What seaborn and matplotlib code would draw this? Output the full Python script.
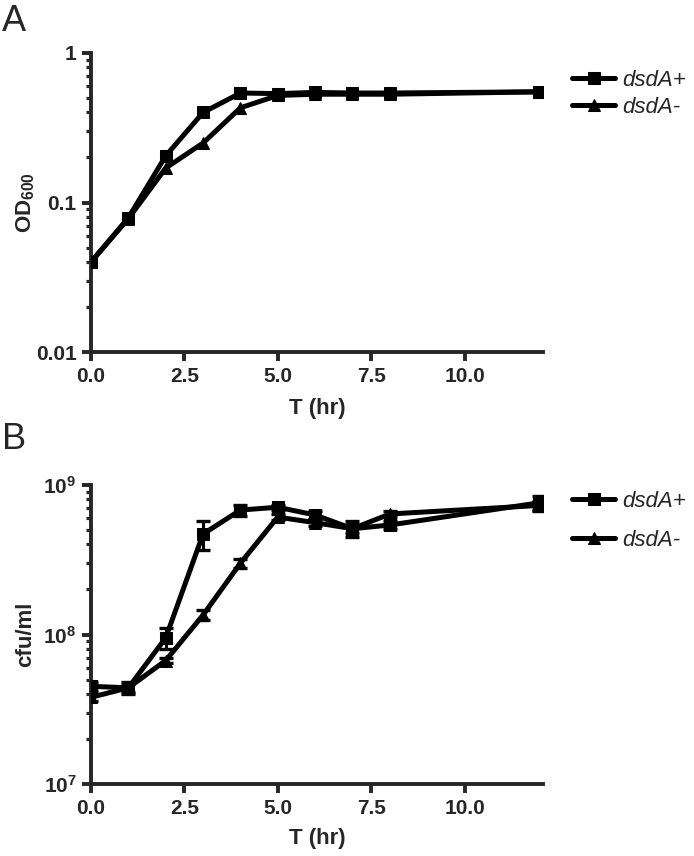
import matplotlib
matplotlib.use("Agg")
import matplotlib.pyplot as plt
import matplotlib.ticker as mticker
import seaborn as sns
import pandas as pd
import numpy as np

# time points (hr)
t = [0, 1, 2, 3, 4, 5, 6, 7, 8, 12]

# panel A: OD600
od_plus = [0.040, 0.079, 0.205, 0.40, 0.54, 0.535, 0.545, 0.54, 0.54, 0.55]
od_minus = [0.040, 0.078, 0.170, 0.25, 0.43, 0.52, 0.53, 0.53, 0.53, 0.55]

# panel B: cfu/ml
cfu_plus = [4.5e7, 4.4e7, 9.5e7, 4.7e8, 6.8e8, 7.1e8, 6.3e8, 5.1e8, 5.4e8, 7.6e8]
cfu_plus_sd = [0.3e7, 0.4e7, 1.5e7, 1.0e8, 0.6e8, 0.3e8, 0.4e8, 0.6e8, 0.3e8, 0.9e8]
cfu_minus = [3.8e7, 4.4e7, 6.7e7, 1.35e8, 3.0e8, 6.1e8, 5.6e8, 5.1e8, 6.4e8, 7.3e8]
cfu_minus_sd = [0.2e7, 0.3e7, 0.3e7, 0.1e8, 0.2e8, 0.3e8, 0.3e8, 0.3e8, 0.3e8, 0.5e8]

strains = ["dsdA+", "dsdA-"]

sns.set_style("ticks")
plt.rcParams["font.family"] = ["Liberation Sans", "DejaVu Sans"]
plt.rcParams["mathtext.fontset"] = "custom"
plt.rcParams["mathtext.rm"] = "Liberation Sans:bold"
plt.rcParams["mathtext.bf"] = "Liberation Sans:bold"
plt.rcParams["mathtext.it"] = "Liberation Sans:bold"

fig = plt.figure(figsize=(6.94, 8.56), dpi=100)
axA = fig.add_axes([91/694, 1-352/856, (543-91)/694, (352-53)/856])
axB = fig.add_axes([91/694, 1-784/856, (543-91)/694, (784-485)/856])

dfA = pd.DataFrame({
    "T": t * 2,
    "val": od_plus + od_minus,
    "strain": [strains[0]] * len(t) + [strains[1]] * len(t),
})
dfB = pd.DataFrame({
    "T": t * 2,
    "val": cfu_plus + cfu_minus,
    "sd": cfu_plus_sd + cfu_minus_sd,
    "strain": [strains[0]] * len(t) + [strains[1]] * len(t),
})

pal = {"dsdA+": "black", "dsdA-": "black"}
marks = {"dsdA+": "s", "dsdA-": "^"}

handles = {}
for ax, df in [(axA, dfA), (axB, dfB)]:
    sns.lineplot(data=df, x="T", y="val", hue="strain", style="strain",
                 palette=pal, markers=marks, dashes=False, linewidth=3.6,
                 markersize=9, markeredgecolor="black", ax=ax, zorder=3)
    handles[ax] = ax.get_legend_handles_labels()
    ax.get_legend().remove()

for s in strains:
    sub = dfB[dfB["strain"] == s]
    axB.errorbar(sub["T"], sub["val"], yerr=sub["sd"], fmt="none",
                 ecolor="black", elinewidth=2.2, capsize=5, capthick=2.4, zorder=2)

for ax in (axA, axB):
    ax.set_yscale("log")
    ax.set_xlim(0, 12.1)
    ax.set_xticks([0, 2.5, 5, 7.5, 10])
    ax.xaxis.set_major_formatter(mticker.FormatStrFormatter("%.1f"))
    for sp in ["top", "right"]:
        ax.spines[sp].set_visible(False)
    for sp in ["left", "bottom"]:
        ax.spines[sp].set_linewidth(2.8)
    ax.tick_params(which="major", width=2.8, length=6.5, labelsize=15, pad=4)
    ax.tick_params(which="minor", width=2.3, length=3.8)
    ax.tick_params(axis="x", which="minor", bottom=False)
    ax.set_xlabel("T (hr)", fontsize=16, fontweight="bold")

axA.set_ylim(0.01, 1)
axA.set_yticks([0.01, 0.1, 1])
axA.yaxis.set_major_formatter(mticker.FixedFormatter(["0.01", "0.1", "1"]))
axA.yaxis.set_minor_locator(mticker.LogLocator(base=10, subs=np.arange(2, 10)))
axA.yaxis.set_minor_formatter(mticker.NullFormatter())
axA.set_ylabel("OD$_{600}$", fontsize=16, fontweight="bold")

axB.set_ylim(1e7, 1e9)
axB.set_yticks([1e7, 1e8, 1e9])
axB.yaxis.set_major_formatter(mticker.FixedFormatter(["10$^{7}$", "10$^{8}$", "10$^{9}$"]))
axB.yaxis.set_minor_locator(mticker.LogLocator(base=10, subs=np.arange(2, 10)))
axB.yaxis.set_minor_formatter(mticker.NullFormatter())
axB.set_ylabel("cfu/ml", fontsize=16, fontweight="bold")

axA.yaxis.set_label_coords(-0.12, 0.5)
axB.yaxis.set_label_coords(-0.122, 0.5)
axA.xaxis.set_label_coords(0.5, -0.155)
axB.xaxis.set_label_coords(0.5, -0.148)

for ax in (axA, axB):
    for lab in ax.get_xticklabels() + ax.get_yticklabels():
        lab.set_fontweight("bold")

hA, lA = handles[axA]
axA.legend(hA, lA, loc="upper left", bbox_to_anchor=(572/694, 1-70/856),
           bbox_transform=fig.transFigure, frameon=False, handlelength=1.95,
           handletextpad=0.3, labelspacing=0.25, borderpad=0, borderaxespad=0,
           prop={"style": "italic", "size": 16})
hB, lB = handles[axB]
axB.legend(hB, lB, loc="upper left", bbox_to_anchor=(572/694, 1-491/856),
           bbox_transform=fig.transFigure, frameon=False, handlelength=1.95,
           handletextpad=0.3, labelspacing=0.8, borderpad=0, borderaxespad=0,
           prop={"style": "italic", "size": 16})

fig.text(2/694, 1-4/856, "A", fontsize=26, va="top", ha="left")
fig.text(2/694, 1-422/856, "B", fontsize=26, va="top", ha="left")

fig.savefig("out.png", dpi=100)
